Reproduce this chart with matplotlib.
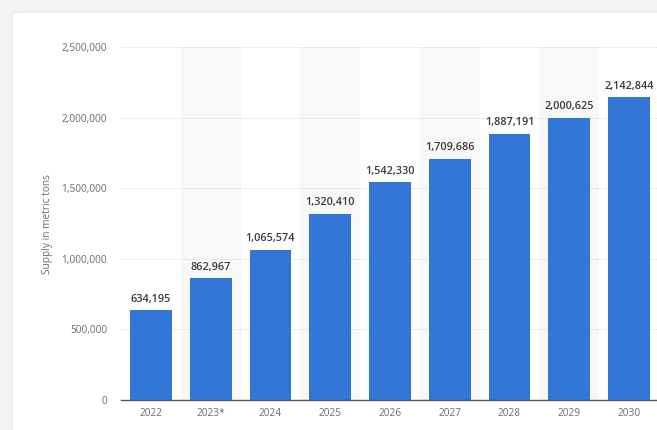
import matplotlib.pyplot as plt
from matplotlib.patches import FancyBboxPatch
from matplotlib.ticker import FuncFormatter

years = ["2022", "2023*", "2024", "2025", "2026", "2027", "2028", "2029", "2030"]
supply = [634195, 862967, 1065574, 1320410, 1542330, 1709686, 1887191, 2000625, 2142844]
y_ticks = [0, 500000, 1000000, 1500000, 2000000, 2500000]

BAR_COLOR = "#3277d8"
TEXT_GRAY = "#6b6b6b"
LABEL_DARK = "#3a3a3a"

plt.rcParams["font.family"] = ["Open Sans", "DejaVu Sans"]

fig = plt.figure(figsize=(6.57, 4.30), dpi=100)
fig.patch.set_facecolor("#f3f4f6")

# white card behind the chart
card = FancyBboxPatch(
    (12 / 657, -0.05), 1.0, (418 / 430) + 0.05,
    boxstyle="round,pad=0,rounding_size=0.01",
    transform=fig.transFigure, facecolor="white",
    edgecolor="#e8e9ec", linewidth=0.8, zorder=-10,
)
fig.add_artist(card)

ax = fig.add_axes([121 / 657, 30 / 430, 538 / 657, 353 / 430])
ax.set_facecolor("none")

x = range(len(years))
for i in x:
    if i % 2 == 1:
        ax.axvspan(i - 0.5, i + 0.5, color="#f8f8f9", zorder=0, lw=0)

bars = ax.bar(x, supply, width=0.7, color=BAR_COLOR, zorder=3)
for rect, val in zip(bars, supply):
    ax.annotate(
        f"{val:,}", (rect.get_x() + rect.get_width() / 2, val),
        xytext=(0, 4), textcoords="offset points",
        ha="center", va="bottom", fontsize=7.8, color=LABEL_DARK,
        fontweight="semibold",
    )

ax.set_xlim(-0.5, len(years) - 0.5)
ax.set_ylim(0, 2500000)
ax.set_yticks(y_ticks)
ax.yaxis.set_major_formatter(FuncFormatter(lambda v, _: f"{int(v):,}"))
ax.set_xticks(list(x))
ax.set_xticklabels(years)
ax.tick_params(axis="both", length=0, labelsize=7.3, labelcolor=TEXT_GRAY)
ax.tick_params(axis="y", pad=10)
ax.tick_params(axis="x", pad=6)

ax.grid(axis="y", color="#dcdcdc", linestyle=(0, (1, 1)), linewidth=0.7, zorder=1)
for side in ("top", "right", "left"):
    ax.spines[side].set_visible(False)
ax.spines["bottom"].set_color("#555555")
ax.spines["bottom"].set_linewidth(1.0)
ax.spines["bottom"].set_zorder(4)

ax.set_ylabel("Supply in metric tons", fontsize=7.3, color=TEXT_GRAY, labelpad=6)

fig.savefig("out.png", dpi=100, facecolor=fig.get_facecolor())
